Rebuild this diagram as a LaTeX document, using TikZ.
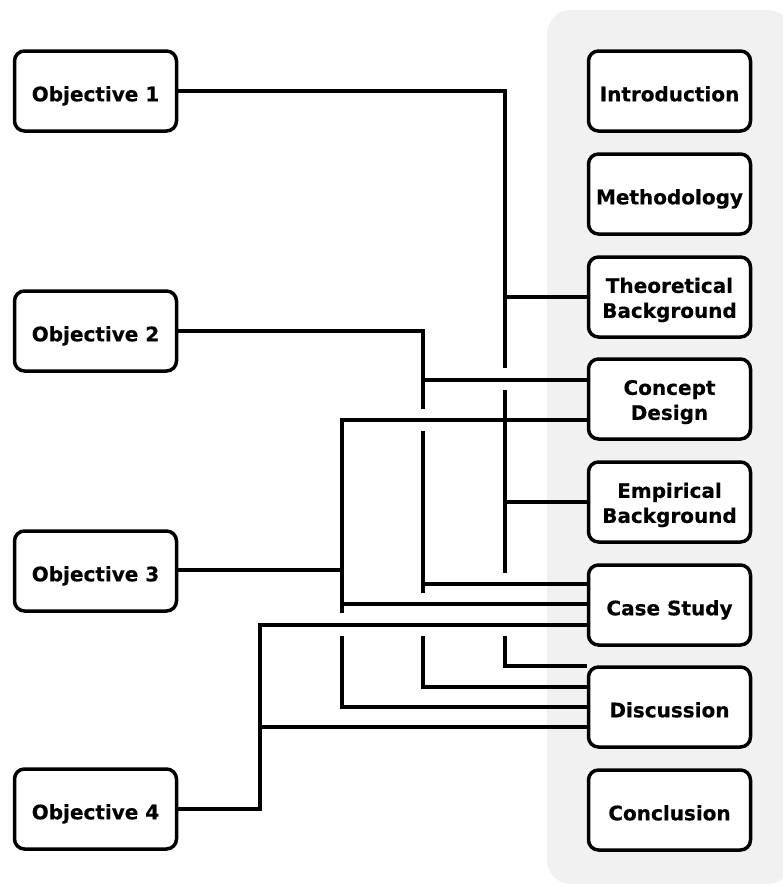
\documentclass[tikz,border=0pt]{standalone}
\usepackage{fontspec}
\setmainfont{DejaVu Sans}[BoldFeatures={FakeBold=0.4}]
\usetikzlibrary{calc}
\definecolor{panelgray}{HTML}{F1F1F1}
\tikzset{
  box/.style={draw=black, line width=3.5pt, rounded corners=10pt, fill=white,
    minimum width=162pt, minimum height=80pt, inner sep=0pt, align=center,
    font=\bfseries\fontsize{20}{25}\selectfont},
  onebox/.style={box, text height=20.6pt, text depth=0pt},
  twobox/.style={box, text height=46pt},
  link/.style={line width=3.6pt, black}
}
\begin{document}
\begin{tikzpicture}[x=1pt,y=-1pt]
\useasboundingbox (0,0) rectangle (782,886);
\fill[panelgray, rounded corners=24pt] (547,10) rectangle (792,884);

% left nodes
\node[onebox] (o1) at (95.5,91) {Objective 1};
\node[onebox] (o2) at (95.5,331) {Objective 2};
\node[onebox] (o3) at (95.5,571) {Objective 3};
\node[onebox] (o4) at (95.5,809) {Objective 4};

% right nodes
\node[onebox] (r1) at (669.5,91) {Introduction};
\node[onebox] (r2) at (669.5,194) {Methodology};
\node[twobox] (r3) at (669.5,297) {Theoretical\\Background};
\node[twobox] (r4) at (669.5,399) {Concept\\Design};
\node[twobox] (r5) at (669.5,502) {Empirical\\Background};
\node[onebox] (r6) at (669.5,605) {Case Study};
\node[onebox] (r7) at (669.5,707) {Discussion};
\node[onebox] (r8) at (669.5,810) {Conclusion};

% junction coordinates
\coordinate (a1) at (505,91);
\coordinate (b1) at (423,331);
\coordinate (c1) at (342,570);
\coordinate (d1) at (260,809);

% Objective 1
\draw[link] (o1.east) -- (a1) -- (505,368);
\draw[link] (505,390) -- (505,573);
\draw[link] (505,636) |- ($(r7.west)+(0,-41)$);
\draw[link] (505,297) -- (r3.west);
\draw[link] (505,502) -- (r5.west);

% Objective 2
\draw[link] (o2.east) -- (b1) -- (423,409);
\draw[link] (423,431) -- (423,593);
\draw[link] (423,636) |- ($(r7.west)+(0,-20)$);
\draw[link] (423,380) -- ($(r4.west)+(0,-19)$);
\draw[link] (423,584) -- ($(r6.west)+(0,-21)$);

% Objective 3
\draw[link] ($(r4.west)+(0,21)$) -| (342,613);
\draw[link] (342,636) |- (r7.west);
\draw[link] (o3.east |- c1) -- (c1);
\draw[link] (342,604) -- ($(r6.west)+(0,-1)$);

% Objective 4
\draw[link] (o4.east) -- (d1) |- ($(r6.west)+(0,20)$);
\draw[link] (260,727) -- ($(r7.west)+(0,20)$);
\end{tikzpicture}
\end{document}
